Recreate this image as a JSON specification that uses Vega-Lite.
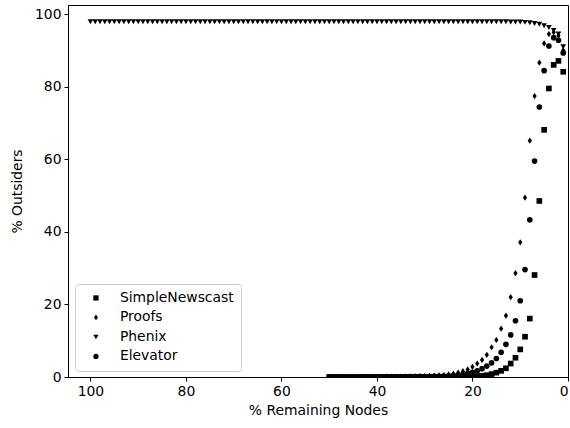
{
  "$schema": "https://vega.github.io/schema/vega-lite/v6.json",
  "width": 500,
  "height": 372,
  "autosize": {"type": "none"},
  "padding": {"left": 68, "top": 5, "right": 2, "bottom": 51},
  "background": "white",
  "config": {
    "view": {"stroke": "black", "strokeWidth": 1},
    "font": "DejaVu Sans",
    "axis": {"grid": false, "domainColor": "black", "tickColor": "black", "labelColor": "black", "titleColor": "black", "labelFontSize": 13.9, "titleFontSize": 13.9, "titleFontWeight": "normal", "tickSize": 4, "labelPadding": 3}
  },
  "datasets": {
    "pts": [
      {"series": "Phenix", "nodes": 100, "outsiders": 97.9}, {"series": "Phenix", "nodes": 99, "outsiders": 97.9}, {"series": "Phenix", "nodes": 98, "outsiders": 97.9}, {"series": "Phenix", "nodes": 97, "outsiders": 97.9}, {"series": "Phenix", "nodes": 96, "outsiders": 97.9},
      {"series": "Phenix", "nodes": 95, "outsiders": 97.9}, {"series": "Phenix", "nodes": 94, "outsiders": 97.9}, {"series": "Phenix", "nodes": 93, "outsiders": 97.9}, {"series": "Phenix", "nodes": 92, "outsiders": 97.9}, {"series": "Phenix", "nodes": 91, "outsiders": 97.9},
      {"series": "Phenix", "nodes": 90, "outsiders": 97.9}, {"series": "Phenix", "nodes": 89, "outsiders": 97.9}, {"series": "Phenix", "nodes": 88, "outsiders": 97.9}, {"series": "Phenix", "nodes": 87, "outsiders": 97.9}, {"series": "Phenix", "nodes": 86, "outsiders": 97.9},
      {"series": "Phenix", "nodes": 85, "outsiders": 97.9}, {"series": "Phenix", "nodes": 84, "outsiders": 97.9}, {"series": "Phenix", "nodes": 83, "outsiders": 97.9}, {"series": "Phenix", "nodes": 82, "outsiders": 97.9}, {"series": "Phenix", "nodes": 81, "outsiders": 97.9},
      {"series": "Phenix", "nodes": 80, "outsiders": 97.9}, {"series": "Phenix", "nodes": 79, "outsiders": 97.9}, {"series": "Phenix", "nodes": 78, "outsiders": 97.9}, {"series": "Phenix", "nodes": 77, "outsiders": 97.9}, {"series": "Phenix", "nodes": 76, "outsiders": 97.9},
      {"series": "Phenix", "nodes": 75, "outsiders": 97.9}, {"series": "Phenix", "nodes": 74, "outsiders": 97.9}, {"series": "Phenix", "nodes": 73, "outsiders": 97.9}, {"series": "Phenix", "nodes": 72, "outsiders": 97.9}, {"series": "Phenix", "nodes": 71, "outsiders": 97.9},
      {"series": "Phenix", "nodes": 70, "outsiders": 97.9}, {"series": "Phenix", "nodes": 69, "outsiders": 97.9}, {"series": "Phenix", "nodes": 68, "outsiders": 97.9}, {"series": "Phenix", "nodes": 67, "outsiders": 97.9}, {"series": "Phenix", "nodes": 66, "outsiders": 97.9},
      {"series": "Phenix", "nodes": 65, "outsiders": 97.9}, {"series": "Phenix", "nodes": 64, "outsiders": 97.9}, {"series": "Phenix", "nodes": 63, "outsiders": 97.9}, {"series": "Phenix", "nodes": 62, "outsiders": 97.9}, {"series": "Phenix", "nodes": 61, "outsiders": 97.9},
      {"series": "Phenix", "nodes": 60, "outsiders": 97.9}, {"series": "Phenix", "nodes": 59, "outsiders": 97.9}, {"series": "Phenix", "nodes": 58, "outsiders": 97.9}, {"series": "Phenix", "nodes": 57, "outsiders": 97.9}, {"series": "Phenix", "nodes": 56, "outsiders": 97.9},
      {"series": "Phenix", "nodes": 55, "outsiders": 97.9}, {"series": "Phenix", "nodes": 54, "outsiders": 97.9}, {"series": "Phenix", "nodes": 53, "outsiders": 97.9}, {"series": "Phenix", "nodes": 52, "outsiders": 97.9}, {"series": "Phenix", "nodes": 51, "outsiders": 97.9},
      {"series": "Phenix", "nodes": 50, "outsiders": 97.9}, {"series": "Phenix", "nodes": 49, "outsiders": 97.9}, {"series": "Phenix", "nodes": 48, "outsiders": 97.9}, {"series": "Phenix", "nodes": 47, "outsiders": 97.9}, {"series": "Phenix", "nodes": 46, "outsiders": 97.9},
      {"series": "Phenix", "nodes": 45, "outsiders": 97.9}, {"series": "Phenix", "nodes": 44, "outsiders": 97.9}, {"series": "Phenix", "nodes": 43, "outsiders": 97.9}, {"series": "Phenix", "nodes": 42, "outsiders": 97.9}, {"series": "Phenix", "nodes": 41, "outsiders": 97.9},
      {"series": "Phenix", "nodes": 40, "outsiders": 97.9}, {"series": "Phenix", "nodes": 39, "outsiders": 97.9}, {"series": "Phenix", "nodes": 38, "outsiders": 97.9}, {"series": "Phenix", "nodes": 37, "outsiders": 97.9}, {"series": "Phenix", "nodes": 36, "outsiders": 97.9},
      {"series": "Phenix", "nodes": 35, "outsiders": 97.9}, {"series": "Phenix", "nodes": 34, "outsiders": 97.9}, {"series": "Phenix", "nodes": 33, "outsiders": 97.9}, {"series": "Phenix", "nodes": 32, "outsiders": 97.9}, {"series": "Phenix", "nodes": 31, "outsiders": 97.9},
      {"series": "Phenix", "nodes": 30, "outsiders": 97.9}, {"series": "Phenix", "nodes": 29, "outsiders": 97.9}, {"series": "Phenix", "nodes": 28, "outsiders": 97.9}, {"series": "Phenix", "nodes": 27, "outsiders": 97.9}, {"series": "Phenix", "nodes": 26, "outsiders": 97.9},
      {"series": "Phenix", "nodes": 25, "outsiders": 97.9}, {"series": "Phenix", "nodes": 24, "outsiders": 97.9}, {"series": "Phenix", "nodes": 23, "outsiders": 97.9}, {"series": "Phenix", "nodes": 22, "outsiders": 97.9}, {"series": "Phenix", "nodes": 21, "outsiders": 97.9},
      {"series": "Phenix", "nodes": 20, "outsiders": 97.9}, {"series": "Phenix", "nodes": 19, "outsiders": 97.9}, {"series": "Phenix", "nodes": 18, "outsiders": 97.9}, {"series": "Phenix", "nodes": 17, "outsiders": 97.9}, {"series": "Phenix", "nodes": 16, "outsiders": 97.9},
      {"series": "Phenix", "nodes": 15, "outsiders": 97.9}, {"series": "Phenix", "nodes": 14, "outsiders": 97.9}, {"series": "Phenix", "nodes": 13, "outsiders": 97.9}, {"series": "Phenix", "nodes": 12, "outsiders": 97.8}, {"series": "Phenix", "nodes": 11, "outsiders": 97.8},
      {"series": "Phenix", "nodes": 10, "outsiders": 97.8}, {"series": "Phenix", "nodes": 9, "outsiders": 97.7}, {"series": "Phenix", "nodes": 8, "outsiders": 97.6}, {"series": "Phenix", "nodes": 7, "outsiders": 97.4}, {"series": "Phenix", "nodes": 6, "outsiders": 97.2},
      {"series": "Phenix", "nodes": 5, "outsiders": 96.8}, {"series": "Phenix", "nodes": 4, "outsiders": 96.3}, {"series": "Phenix", "nodes": 3, "outsiders": 95.5}, {"series": "Phenix", "nodes": 2, "outsiders": 94.5}, {"series": "Phenix", "nodes": 1, "outsiders": 91.0},

      {"series": "SimpleNewscast", "nodes": 50, "outsiders": 0}, {"series": "SimpleNewscast", "nodes": 49, "outsiders": 0}, {"series": "SimpleNewscast", "nodes": 48, "outsiders": 0}, {"series": "SimpleNewscast", "nodes": 47, "outsiders": 0}, {"series": "SimpleNewscast", "nodes": 46, "outsiders": 0},
      {"series": "SimpleNewscast", "nodes": 45, "outsiders": 0}, {"series": "SimpleNewscast", "nodes": 44, "outsiders": 0}, {"series": "SimpleNewscast", "nodes": 43, "outsiders": 0}, {"series": "SimpleNewscast", "nodes": 42, "outsiders": 0}, {"series": "SimpleNewscast", "nodes": 41, "outsiders": 0},
      {"series": "SimpleNewscast", "nodes": 40, "outsiders": 0}, {"series": "SimpleNewscast", "nodes": 39, "outsiders": 0}, {"series": "SimpleNewscast", "nodes": 38, "outsiders": 0}, {"series": "SimpleNewscast", "nodes": 37, "outsiders": 0}, {"series": "SimpleNewscast", "nodes": 36, "outsiders": 0},
      {"series": "SimpleNewscast", "nodes": 35, "outsiders": 0}, {"series": "SimpleNewscast", "nodes": 34, "outsiders": 0}, {"series": "SimpleNewscast", "nodes": 33, "outsiders": 0}, {"series": "SimpleNewscast", "nodes": 32, "outsiders": 0}, {"series": "SimpleNewscast", "nodes": 31, "outsiders": 0},
      {"series": "SimpleNewscast", "nodes": 30, "outsiders": 0}, {"series": "SimpleNewscast", "nodes": 29, "outsiders": 0.02}, {"series": "SimpleNewscast", "nodes": 28, "outsiders": 0.03}, {"series": "SimpleNewscast", "nodes": 27, "outsiders": 0.04}, {"series": "SimpleNewscast", "nodes": 26, "outsiders": 0.05},
      {"series": "SimpleNewscast", "nodes": 25, "outsiders": 0.06}, {"series": "SimpleNewscast", "nodes": 24, "outsiders": 0.08}, {"series": "SimpleNewscast", "nodes": 23, "outsiders": 0.1}, {"series": "SimpleNewscast", "nodes": 22, "outsiders": 0.12}, {"series": "SimpleNewscast", "nodes": 21, "outsiders": 0.15},
      {"series": "SimpleNewscast", "nodes": 20, "outsiders": 0.2}, {"series": "SimpleNewscast", "nodes": 19, "outsiders": 0.25}, {"series": "SimpleNewscast", "nodes": 18, "outsiders": 0.35}, {"series": "SimpleNewscast", "nodes": 17, "outsiders": 0.5}, {"series": "SimpleNewscast", "nodes": 16, "outsiders": 0.8},
      {"series": "SimpleNewscast", "nodes": 15, "outsiders": 1.2}, {"series": "SimpleNewscast", "nodes": 14, "outsiders": 1.7}, {"series": "SimpleNewscast", "nodes": 13, "outsiders": 2.4}, {"series": "SimpleNewscast", "nodes": 12, "outsiders": 3.7}, {"series": "SimpleNewscast", "nodes": 11, "outsiders": 5.3},
      {"series": "SimpleNewscast", "nodes": 10, "outsiders": 7.6}, {"series": "SimpleNewscast", "nodes": 9, "outsiders": 11.1}, {"series": "SimpleNewscast", "nodes": 8, "outsiders": 16.1}, {"series": "SimpleNewscast", "nodes": 7, "outsiders": 28.1}, {"series": "SimpleNewscast", "nodes": 6, "outsiders": 48.5},
      {"series": "SimpleNewscast", "nodes": 5, "outsiders": 68.1}, {"series": "SimpleNewscast", "nodes": 4, "outsiders": 79.5}, {"series": "SimpleNewscast", "nodes": 3, "outsiders": 86.0}, {"series": "SimpleNewscast", "nodes": 2, "outsiders": 87.1}, {"series": "SimpleNewscast", "nodes": 1, "outsiders": 84.1},

      {"series": "Proofs", "nodes": 50, "outsiders": 0}, {"series": "Proofs", "nodes": 49, "outsiders": 0}, {"series": "Proofs", "nodes": 48, "outsiders": 0.01}, {"series": "Proofs", "nodes": 47, "outsiders": 0.01}, {"series": "Proofs", "nodes": 46, "outsiders": 0.02},
      {"series": "Proofs", "nodes": 45, "outsiders": 0.02}, {"series": "Proofs", "nodes": 44, "outsiders": 0.03}, {"series": "Proofs", "nodes": 43, "outsiders": 0.03}, {"series": "Proofs", "nodes": 42, "outsiders": 0.04}, {"series": "Proofs", "nodes": 41, "outsiders": 0.05},
      {"series": "Proofs", "nodes": 40, "outsiders": 0.06}, {"series": "Proofs", "nodes": 39, "outsiders": 0.07}, {"series": "Proofs", "nodes": 38, "outsiders": 0.08}, {"series": "Proofs", "nodes": 37, "outsiders": 0.09}, {"series": "Proofs", "nodes": 36, "outsiders": 0.1},
      {"series": "Proofs", "nodes": 35, "outsiders": 0.12}, {"series": "Proofs", "nodes": 34, "outsiders": 0.14}, {"series": "Proofs", "nodes": 33, "outsiders": 0.16}, {"series": "Proofs", "nodes": 32, "outsiders": 0.19}, {"series": "Proofs", "nodes": 31, "outsiders": 0.22},
      {"series": "Proofs", "nodes": 30, "outsiders": 0.26}, {"series": "Proofs", "nodes": 29, "outsiders": 0.3}, {"series": "Proofs", "nodes": 28, "outsiders": 0.36}, {"series": "Proofs", "nodes": 27, "outsiders": 0.44}, {"series": "Proofs", "nodes": 26, "outsiders": 0.55},
      {"series": "Proofs", "nodes": 25, "outsiders": 0.7}, {"series": "Proofs", "nodes": 24, "outsiders": 0.9}, {"series": "Proofs", "nodes": 23, "outsiders": 1.2}, {"series": "Proofs", "nodes": 22, "outsiders": 1.6}, {"series": "Proofs", "nodes": 21, "outsiders": 2.1},
      {"series": "Proofs", "nodes": 20, "outsiders": 2.8}, {"series": "Proofs", "nodes": 19, "outsiders": 3.7}, {"series": "Proofs", "nodes": 18, "outsiders": 4.7}, {"series": "Proofs", "nodes": 17, "outsiders": 6.1}, {"series": "Proofs", "nodes": 16, "outsiders": 8.2},
      {"series": "Proofs", "nodes": 15, "outsiders": 10.2}, {"series": "Proofs", "nodes": 14, "outsiders": 13.3}, {"series": "Proofs", "nodes": 13, "outsiders": 16.9}, {"series": "Proofs", "nodes": 12, "outsiders": 22.0}, {"series": "Proofs", "nodes": 11, "outsiders": 28.6},
      {"series": "Proofs", "nodes": 10, "outsiders": 37.1}, {"series": "Proofs", "nodes": 9, "outsiders": 49.4}, {"series": "Proofs", "nodes": 8, "outsiders": 65.1}, {"series": "Proofs", "nodes": 7, "outsiders": 77.4}, {"series": "Proofs", "nodes": 6, "outsiders": 86.6},
      {"series": "Proofs", "nodes": 5, "outsiders": 91.9}, {"series": "Proofs", "nodes": 4, "outsiders": 94.5}, {"series": "Proofs", "nodes": 3, "outsiders": 95.0}, {"series": "Proofs", "nodes": 2, "outsiders": 94.0}, {"series": "Proofs", "nodes": 1, "outsiders": 90.0},

      {"series": "Elevator", "nodes": 50, "outsiders": 0}, {"series": "Elevator", "nodes": 49, "outsiders": 0}, {"series": "Elevator", "nodes": 48, "outsiders": 0}, {"series": "Elevator", "nodes": 47, "outsiders": 0.01}, {"series": "Elevator", "nodes": 46, "outsiders": 0.01},
      {"series": "Elevator", "nodes": 45, "outsiders": 0.01}, {"series": "Elevator", "nodes": 44, "outsiders": 0.01}, {"series": "Elevator", "nodes": 43, "outsiders": 0.02}, {"series": "Elevator", "nodes": 42, "outsiders": 0.02}, {"series": "Elevator", "nodes": 41, "outsiders": 0.02},
      {"series": "Elevator", "nodes": 40, "outsiders": 0.03}, {"series": "Elevator", "nodes": 39, "outsiders": 0.03}, {"series": "Elevator", "nodes": 38, "outsiders": 0.04}, {"series": "Elevator", "nodes": 37, "outsiders": 0.04}, {"series": "Elevator", "nodes": 36, "outsiders": 0.05},
      {"series": "Elevator", "nodes": 35, "outsiders": 0.06}, {"series": "Elevator", "nodes": 34, "outsiders": 0.07}, {"series": "Elevator", "nodes": 33, "outsiders": 0.08}, {"series": "Elevator", "nodes": 32, "outsiders": 0.09}, {"series": "Elevator", "nodes": 31, "outsiders": 0.1},
      {"series": "Elevator", "nodes": 30, "outsiders": 0.12}, {"series": "Elevator", "nodes": 29, "outsiders": 0.14}, {"series": "Elevator", "nodes": 28, "outsiders": 0.17}, {"series": "Elevator", "nodes": 27, "outsiders": 0.2}, {"series": "Elevator", "nodes": 26, "outsiders": 0.25},
      {"series": "Elevator", "nodes": 25, "outsiders": 0.3}, {"series": "Elevator", "nodes": 24, "outsiders": 0.4}, {"series": "Elevator", "nodes": 23, "outsiders": 0.5}, {"series": "Elevator", "nodes": 22, "outsiders": 0.7}, {"series": "Elevator", "nodes": 21, "outsiders": 1.0},
      {"series": "Elevator", "nodes": 20, "outsiders": 1.3}, {"series": "Elevator", "nodes": 19, "outsiders": 1.7}, {"series": "Elevator", "nodes": 18, "outsiders": 2.3}, {"series": "Elevator", "nodes": 17, "outsiders": 3.0}, {"series": "Elevator", "nodes": 16, "outsiders": 3.9},
      {"series": "Elevator", "nodes": 15, "outsiders": 5.1}, {"series": "Elevator", "nodes": 14, "outsiders": 6.8}, {"series": "Elevator", "nodes": 13, "outsiders": 9.0}, {"series": "Elevator", "nodes": 12, "outsiders": 11.6}, {"series": "Elevator", "nodes": 11, "outsiders": 15.5},
      {"series": "Elevator", "nodes": 10, "outsiders": 21.0}, {"series": "Elevator", "nodes": 9, "outsiders": 29.6}, {"series": "Elevator", "nodes": 8, "outsiders": 43.3}, {"series": "Elevator", "nodes": 7, "outsiders": 59.5}, {"series": "Elevator", "nodes": 6, "outsiders": 74.4},
      {"series": "Elevator", "nodes": 5, "outsiders": 84.4}, {"series": "Elevator", "nodes": 4, "outsiders": 91.2}, {"series": "Elevator", "nodes": 3, "outsiders": 93.5}, {"series": "Elevator", "nodes": 2, "outsiders": 92.8}, {"series": "Elevator", "nodes": 1, "outsiders": 89.3}
    ]
  },
  "data": {"name": "pts"},
  "mark": {"type": "point", "filled": true, "opacity": 1, "clip": true, "size": 32},
  "encoding": {
    "x": {"field": "nodes", "type": "quantitative", "title": "% Remaining Nodes",
      "scale": {"domain": [0, 104.7], "reverse": true, "nice": false, "zero": false},
      "axis": {"values": [0, 20, 40, 60, 80, 100], "titlePadding": 6}},
    "y": {"field": "outsiders", "type": "quantitative", "title": "% Outsiders",
      "scale": {"domain": [0, 102.5], "nice": false},
      "axis": {"values": [0, 20, 40, 60, 80, 100], "titlePadding": 10}},
    "shape": {"field": "series", "type": "nominal",
      "scale": {"domain": ["SimpleNewscast", "Proofs", "Phenix", "Elevator"],
        "range": ["square", "M0,-1.1L0.75,0L0,1.1L-0.75,0Z", "triangle-down", "circle"]},
      "legend": {"title": null, "orient": "none", "legendX": 7, "legendY": 279, "labelFontSize": 13.9, "symbolSize": 28, "symbolFillColor": "black", "symbolStrokeColor": "black", "rowPadding": 4.5, "labelOffset": 17, "padding": 7, "strokeColor": "#cccccc", "cornerRadius": 3, "fillColor": "white", "symbolOffset": 7, "labelColor": "black"}},
    "color": {"value": "black"}
  }
}
